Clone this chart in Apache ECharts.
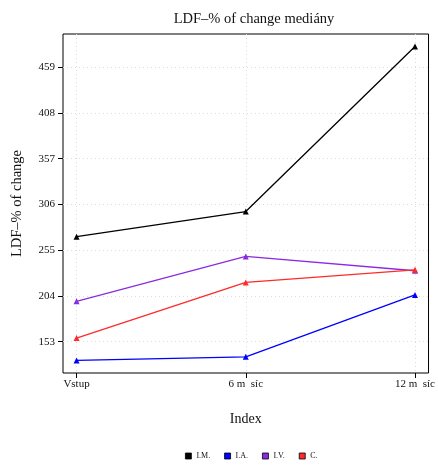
<!DOCTYPE html>
<html><head><meta charset="utf-8">
<script src="https://cdn.jsdelivr.net/npm/echarts@6/dist/echarts.min.js"></script>
<style>html,body{margin:0;padding:0;background:#fff}#c{width:438px;height:466px}</style>
</head><body><div id="c"></div>
<script>
const categories = ['Vstup', '6 m  síc', '12 m  síc'];
const seriesNames = ['I.M.', 'I.A.', 'I.V.', 'C.'];
const valuesIM = [270, 298, 482];
const valuesIA = [132, 136, 205];
const valuesIV = [198, 248, 232];
const valuesC = [157, 219, 233];
const yTicks = [153, 204, 255, 306, 357, 408, 459];
const colors = ['#000000', '#0000ff', '#8a2be2', '#ff2a2a'];

const allVals = [valuesIM, valuesIA, valuesIV, valuesC];
const font = 'Liberation Serif, DejaVu Serif, serif';
const chart = echarts.init(document.getElementById('c'));
chart.setOption({
  animation: false,
  backgroundColor: '#fff',
  title: {text: 'LDF\u2013% of change mediány', left: 249, top: 7, textAlign: 'center',
    textStyle: {fontFamily: font, fontSize: 14.5, fontWeight: 'normal', color: '#111'}},
  legend: {top: 447, left: 180, icon: 'rect', itemWidth: 6, itemHeight: 6, itemGap: 14,
    data: seriesNames,
    textStyle: {fontFamily: font, fontSize: 8, color: '#111'},
    itemStyle: {borderColor: '#000', borderWidth: 0.8}},
  grid: {left: 63, right: 2, top: 34, bottom: 93, show: true, borderColor: '#000', borderWidth: 1},
  xAxis: {type: 'value', min: -0.08, max: 2.08,
    name: 'Index', nameLocation: 'middle', nameGap: 39,
    nameTextStyle: {fontFamily: font, fontSize: 14, color: '#111'},
    axisLine: {show: false, onZero: false},
    axisTick: {show: true, customValues: [0, 1, 2], length: 5, lineStyle: {color: '#000'}},
    axisLabel: {customValues: [0, 1, 2], formatter: v => categories[Math.round(v)],
      fontFamily: font, fontSize: 11, color: '#111', margin: 6},
    splitLine: {show: true, lineStyle: {color: '#ddd', type: [1, 3]}}},
  yAxis: {type: 'value', min: 118, max: 496,
    name: 'LDF\u2013% of change', nameLocation: 'middle', nameGap: 38,
    nameTextStyle: {fontFamily: font, fontSize: 14.5, color: '#111'},
    axisLine: {show: false, onZero: false},
    axisTick: {show: true, customValues: yTicks, length: 5, lineStyle: {color: '#000'}},
    axisLabel: {customValues: yTicks, fontFamily: font, fontSize: 11, color: '#111', margin: 8},
    splitLine: {show: true, lineStyle: {color: '#ddd', type: [1, 3]}}},
  series: seriesNames.map((n, i) => ({
    name: n, type: 'line', data: allVals[i].map((v, j) => [j, v]),
    symbol: 'triangle', symbolSize: 6,
    lineStyle: {color: colors[i], width: 1.3},
    itemStyle: {color: colors[i]}
  }))
});
</script></body></html>
